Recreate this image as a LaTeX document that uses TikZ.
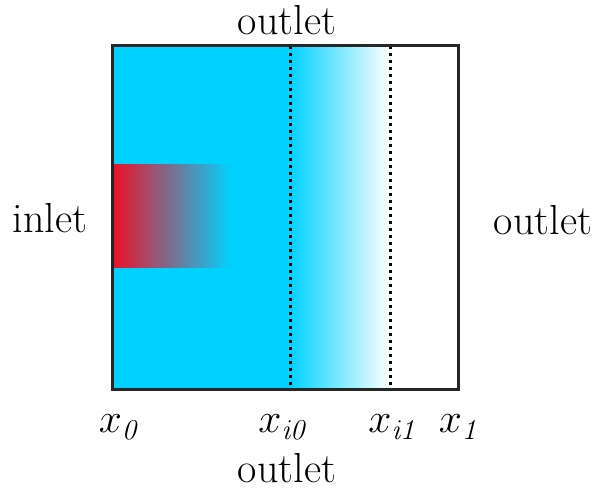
\documentclass[tikz,border=0pt]{standalone}
\usepackage{tikz}
\definecolor{flow-cyan}{RGB}{0,210,255}
\definecolor{inlet-red}{RGB}{237,17,40}

\begin{document}
\begin{tikzpicture}[
    x=0.5pt, y=-0.5pt,
    %% boundary label
    lbl/.style  = {font=\fontsize{21}{25}\selectfont, inner sep=0pt},
    %% position label under the domain
    xlbl/.style = {font=\fontsize{21}{25}\selectfont, inner sep=0pt, anchor=base},
    sep/.style  = {line width=1.5pt, dash pattern=on 1.5pt off 2pt},
    wall/.style = {line width=1.5pt, draw=black!85},
]
\useasboundingbox (0,0) rectangle (595,490);

%% ---- domain fill ----
\fill[flow-cyan] (112,46) rectangle (290,390);
\shade[left color=flow-cyan, right color=white] (290,46) rectangle (390,390);

%% ---- inlet jet ----
\shade[left color=inlet-red, right color=flow-cyan] (113,165) rectangle (232,268);

%% ---- interface lines ----
\coordinate (i0top) at (290,46);
\coordinate (i0bot) at (290,390);
\coordinate (i1top) at (390,46);
\coordinate (i1bot) at (390,390);
\draw[sep] (i0top) -- (i0bot);
\draw[sep] (i1top) -- (i1bot);

%% ---- domain wall ----
\draw[wall] (112,46) rectangle (458,390);

%% ---- boundary labels ----
\node[lbl] (outtop)    at (287,20)  {outlet};
\node[lbl] (inlet)     at (50,218)  {inlet};
\node[lbl] (outright)  at (543,220) {outlet};
\node[lbl] (outbottom) at (287,468) {outlet};

%% ---- positions ----
\node[xlbl] (xzero)  at (120,433) {$x_{\mathit{0}}$};
\node[xlbl] (xizero) at (284,433) {$x_{\mathit{i0}}$};
\node[xlbl] (xione)  at (394,433) {$x_{\mathit{i1}}$};
\node[xlbl] (xone)   at (460,433) {$x_{\mathit{1}}$};

\end{tikzpicture}
\end{document}
